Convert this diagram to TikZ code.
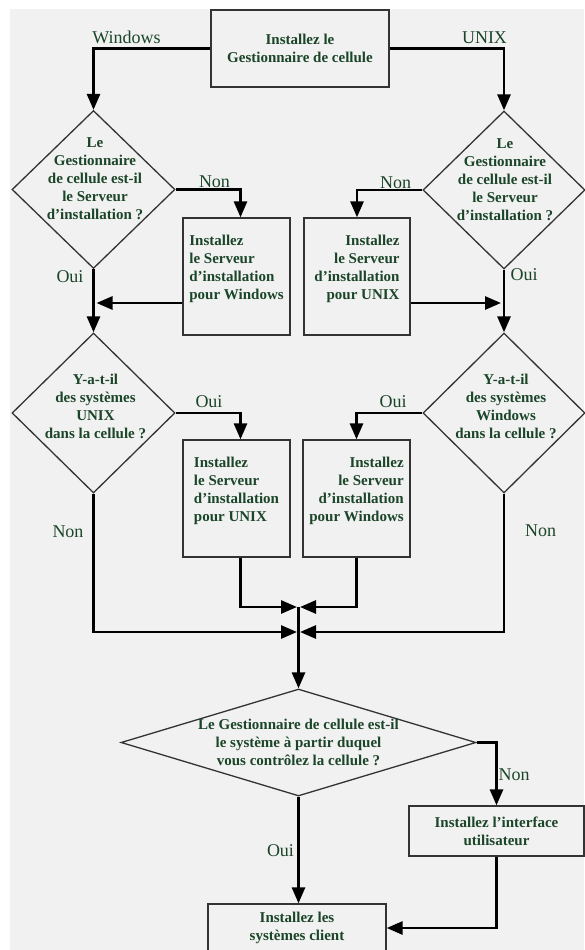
\documentclass[tikz,border=0pt]{standalone}
\usepackage{fontspec}
\setmainfont{Liberation Serif}
\usetikzlibrary{positioning,arrows.meta,shapes.geometric}

\definecolor{pagegray}{HTML}{F1F1F1}
\definecolor{inkgreen}{HTML}{1B4528}
\definecolor{edgegray}{HTML}{333333}

\begin{document}
\begin{tikzpicture}[
  x=1pt, y=-1pt,
  font=\fontsize{15}{18}\selectfont\bfseries,
  box/.style={
    draw=edgegray, line width=1.3pt, text=inkgreen, inner sep=0pt,
    minimum width=107pt, minimum height=117pt
  },
  choice/.style={diamond, draw=edgegray, line width=1.3pt, inner sep=0pt},
  ctext/.style={text=inkgreen, align=center, inner sep=0pt},
  tag/.style={text=inkgreen, inner sep=0pt,
    font=\normalfont\fontsize{18}{20}\selectfont},
  link/.style={line width=2.8pt},
  >={Triangle[length=16pt,width=13pt]}
]
  \useasboundingbox (0,0) rectangle (584,950);
  \fill[white] (0,0) rectangle (584,950);
  \fill[pagegray] (10,9) rectangle (584,950);

  % first step
  \node[box, align=center, minimum width=178pt, minimum height=77pt]
        (inst) at (300,48.5) {Installez le\\Gestionnaire de cellule};

  % server questions
  \node[choice, minimum width=163pt, minimum height=158pt] (d1) at (93.5,189.5) {};
  \node[ctext, yshift=10.5pt, xshift=1.5pt] (d1t) at (d1)
        {Le\\Gestionnaire\\de cellule est-il\\le Serveur\\d’installation ?};
  \node[choice, minimum width=162pt, minimum height=158pt] (d2) at (504,190) {};
  \node[ctext, yshift=10.5pt, xshift=1pt] (d2t) at (d2)
        {Le\\Gestionnaire\\de cellule est-il\\le Serveur\\d’installation ?};

  \node[box, align=left] (b1) at (236.5,276.5)
        {Installez\\le Serveur\\d’installation\\pour Windows\\\mbox{}};
  \node[box, align=right, minimum width=106pt] (b2) at (357,276.5)
        {Installez\\le Serveur\\d’installation\\pour UNIX\\\mbox{}};

  % other systems in the cell
  \node[choice, minimum width=163pt, minimum height=160pt] (d3) at (93.5,413) {};
  \node[ctext, yshift=6.5pt, xshift=2pt] (d3t) at (d3)
        {Y-a-t-il\\des systèmes\\UNIX\\dans la cellule ?};
  \node[choice, minimum width=162pt, minimum height=160pt] (d4) at (504,413) {};
  \node[ctext, yshift=7pt, xshift=2pt] (d4t) at (d4)
        {Y-a-t-il\\des systèmes\\Windows\\dans la cellule ?};

  \node[box, align=left] (b3) at (236.5,498.5)
        {Installez\\le Serveur\\d’installation\\pour UNIX\\\mbox{}};
  \node[box, align=right] (b4) at (356.5,498.5)
        {Installez\\le Serveur\\d’installation\\pour Windows\\\mbox{}};

  \coordinate (j1) at (298.5,607);
  \coordinate (j2) at (298.5,632);

  % control system
  \node[choice, minimum width=355pt, minimum height=107pt] (d5) at (298.5,742.5) {};
  \node[ctext] (d5t) at (d5)
        {Le Gestionnaire de cellule est-il\\le système à partir duquel\\vous contrôlez la cellule ?};

  \node[box, align=center, minimum width=175pt, minimum height=50pt]
        (b5) at (496.5,831) {Installez l’interface\\utilisateur};
  \node[box, align=center, minimum width=178pt, minimum height=48pt]
        (b6) at (297,928) {Installez les\\systèmes client};

  % labels
  \node[tag] (winlbl)  at (126.5,37) {Windows};
  \node[tag] (unixlbl) at (484.5,38) {UNIX};
  \node[tag] (non1) at (214.5,182) {Non};
  \node[tag] (oui1) at (70,277)    {Oui};
  \node[tag] (non2) at (395.5,183) {Non};
  \node[tag] (oui2) at (524,275)   {Oui};
  \node[tag] (oui3) at (209,402)   {Oui};
  \node[tag] (non3) at (68,532)    {Non};
  \node[tag] (oui4) at (393,402)   {Oui};
  \node[tag] (non4) at (540.5,531) {Non};
  \node[tag] (non5) at (514,775)   {Non};
  \node[tag] (oui5) at (280.5,851) {Oui};

  % connectors
  \draw[link,->] (inst.west) -| (d1.north);
  \draw[link,->] (inst.east) -| (d2.north);
  \draw[link,->] (d1.east) -| ([xshift=4pt]b1.north);
  \draw[link,->] (d2.west) -| (b2.north);
  \draw[link,->] (d1.south) -- (d3.north);
  \draw[link,->] (d2.south) -- (d4.north);

  \coordinate (m1) at ([yshift=-26.5pt]b1.west);
  \coordinate (m2) at ([yshift=-26.5pt]b2.east);
  \draw[link,->,shorten >=3pt] (m1) -- (m1 -| d1.south);
  \draw[link,->,shorten >=3pt] (m2) -- (m2 -| d2.south);

  \draw[link,->] (d3.east) -| ([xshift=4pt]b3.north);
  \draw[link,->] (d4.west) -| (b4.north);
  \draw[link,->,shorten >=1.5pt] ([xshift=4pt]b3.south) |- (j1);
  \draw[link,->,shorten >=1.5pt] (b4.south) |- (j1);
  \draw[link,->,shorten >=1.5pt] (d3.south) |- (j2);
  \draw[link,->,shorten >=1.5pt] (d4.south) |- (j2);
  \draw[link,->] (j1) -- (d5.north);

  \draw[link,->] (d5.east) -| (b5.north);
  \draw[link,->] (d5.south) -- (d5.south |- b6.north);
  \draw[link,->] (b5.south) |- (b6.east);
\end{tikzpicture}
\end{document}
